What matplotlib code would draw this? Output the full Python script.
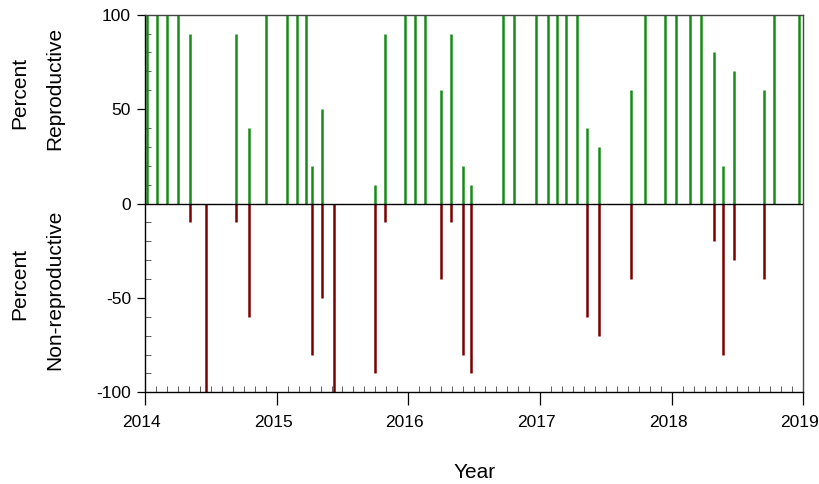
import matplotlib
matplotlib.use('Agg')
import matplotlib.pyplot as plt
import matplotlib.transforms as mtransforms
from matplotlib.ticker import MultipleLocator
import numpy as np

plt.rcParams['font.family'] = ['Liberation Sans', 'DejaVu Sans']
plt.rcParams['axes.unicode_minus'] = False

# sampling dates as decimal years
dates = [2014.013, 2014.093, 2014.169, 2014.251, 2014.344, 2014.461, 2014.691,
         2014.792, 2014.919, 2015.076, 2015.152, 2015.223, 2015.266, 2015.344,
         2015.436, 2015.747, 2015.823, 2015.972, 2016.053, 2016.129, 2016.246,
         2016.322, 2016.413, 2016.474, 2016.720, 2016.800, 2016.970, 2017.060,
         2017.130, 2017.200, 2017.280, 2017.360, 2017.450, 2017.690, 2017.800,
         2017.950, 2018.030, 2018.140, 2018.220, 2018.320, 2018.390, 2018.470,
         2018.700, 2018.780, 2018.970]

reproductive = [100, 100, 100, 100, 90, 0, 90, 40, 100, 100, 100, 100, 20, 50,
                0, 10, 90, 100, 100, 100, 60, 90, 20, 10, 100, 100, 100, 100,
                100, 100, 100, 40, 30, 60, 100, 100, 100, 100, 100, 80, 20, 70,
                60, 100, 100]

non_reproductive = [0, 0, 0, 0, -10, -100, -10, -60, 0, 0, 0, 0, -80, -50,
                    -100, -90, -10, 0, 0, 0, -40, -10, -80, -90, 0, 0, 0, 0,
                    0, 0, 0, -60, -70, -40, 0, 0, 0, 0, 0, -20, -80, -30,
                    -40, 0, 0]

year_ticks = [2014, 2015, 2016, 2017, 2018, 2019]

fig = plt.figure(figsize=(8.2, 4.84), dpi=100)
ax = fig.add_axes([145 / 820, 1 - 392.3 / 484, (803.3 - 145) / 820, (392.3 - 14.7) / 484])

d = np.array(dates)
ax.vlines(d, 0, reproductive, color='#168c16', linewidth=1.8, zorder=2)
ax.vlines(d, 0, non_reproductive, color='#7d0000', linewidth=1.8, zorder=2)
ax.axhline(0, color='black', linewidth=1.0, zorder=3)

ax.set_xlim(2014, 2019)
ax.set_ylim(-100, 100)
ax.set_xticks(year_ticks)
ax.set_xticklabels([str(y) for y in year_ticks])
ax.xaxis.set_minor_locator(MultipleLocator(1 / 12))
ax.set_yticks([-100, -50, 0, 50, 100])
ax.yaxis.set_minor_locator(MultipleLocator(10))

ax.tick_params(axis='both', which='major', direction='out', length=6,
               width=0.9, labelsize=12.5, color='black')
ax.tick_params(axis='x', which='major', length=9, pad=7)
ax.tick_params(axis='both', which='minor', direction='in', length=4,
               width=0.6, color='#444444')
ax.tick_params(axis='y', which='major', pad=4)

# year labels sit a little left of their ticks in the original
shift = mtransforms.ScaledTranslation(-3.5 / 100, 0, fig.dpi_scale_trans)
for lbl in ax.get_xticklabels():
    lbl.set_transform(lbl.get_transform() + shift)

for side in ['left', 'bottom']:
    ax.spines[side].set_linewidth(1.0)
for side in ['top', 'right']:
    ax.spines[side].set_linewidth(1.0)
    ax.spines[side].set_color('#444444')

ax.set_xlabel('Year', fontsize=15, labelpad=24)

fig.text(20 / 820, 1 - 93 / 484, 'Percent', rotation=90, fontsize=15,
         ha='center', va='center')
fig.text(55 / 820, 1 - 88 / 484, 'Reproductive', rotation=90, fontsize=15,
         ha='center', va='center')
fig.text(20 / 820, 1 - 284 / 484, 'Percent', rotation=90, fontsize=15,
         ha='center', va='center')
fig.text(55 / 820, 1 - 290 / 484, 'Non-reproductive', rotation=90, fontsize=15,
         ha='center', va='center')

fig.savefig('out.png', dpi=100)
